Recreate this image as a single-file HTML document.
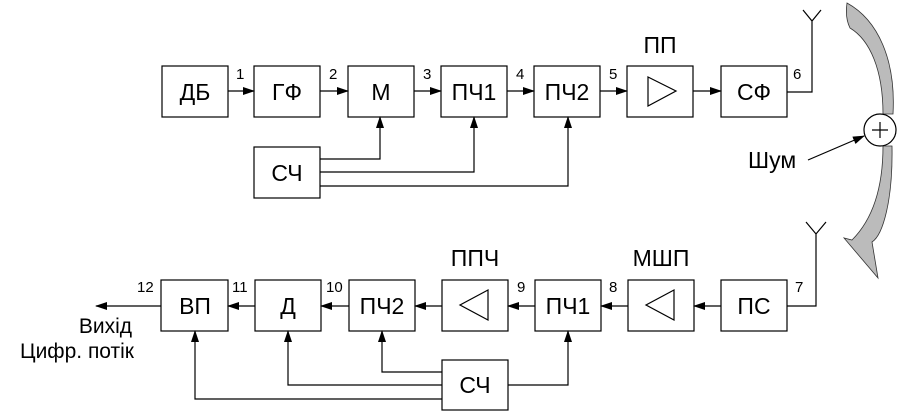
<!DOCTYPE html>
<html><head><meta charset="utf-8"><style>
html,body{margin:0;padding:0;background:#fff;}
svg{display:block;font-family:"Liberation Sans",sans-serif;}
.b{fill:#fff;stroke:#000;stroke-width:1.2;}
.l{fill:none;stroke:#000;stroke-width:1.2;}
.t{font-size:23px;text-anchor:middle;}
.n{font-size:15px;}
</style></head><body>
<svg width="900" height="412" viewBox="0 0 900 412">
<defs><marker id="a" markerWidth="12" markerHeight="8" refX="11" refY="4" orient="auto" markerUnits="userSpaceOnUse"><path d="M0,0L12,4L0,8z" fill="#000"/></marker></defs>
<g>
<rect class="b" x="162" y="66" width="66" height="51"/><text class="t" x="195" y="100">ДБ</text>
<rect class="b" x="254" y="66" width="66" height="51"/><text class="t" x="287" y="100">ГФ</text>
<rect class="b" x="348" y="66" width="66" height="51"/><text class="t" x="381" y="100">М</text>
<rect class="b" x="441" y="66" width="66" height="51"/><text class="t" x="474" y="100">ПЧ1</text>
<rect class="b" x="534" y="66" width="66" height="51"/><text class="t" x="567" y="100">ПЧ2</text>
<rect class="b" x="627" y="66" width="66" height="51"/><path class="l" d="M648,77L676,91L648,106Z"/>
<text class="t" x="660" y="53">ПП</text>
<rect class="b" x="721" y="66" width="66" height="51"/><text class="t" x="754" y="100">СФ</text>
<rect class="b" x="254" y="147" width="66" height="51"/><text class="t" x="287" y="181">СЧ</text>
<path class="l" d="M228,91H254" marker-end="url(#a)"/><text class="n" x="236" y="79">1</text>
<path class="l" d="M320,91H348" marker-end="url(#a)"/><text class="n" x="329" y="79">2</text>
<path class="l" d="M414,91H441" marker-end="url(#a)"/><text class="n" x="423" y="79">3</text>
<path class="l" d="M507,91H534" marker-end="url(#a)"/><text class="n" x="516" y="79">4</text>
<path class="l" d="M600,91H627" marker-end="url(#a)"/><text class="n" x="609" y="79">5</text>
<path class="l" d="M693,91H721" marker-end="url(#a)"/>
<path class="l" d="M787,92H812V21M803,10L812,21L821,10"/><text class="n" x="793" y="79">6</text>
<path class="l" d="M320,159H380V117" marker-end="url(#a)"/>
<path class="l" d="M320,172H474V117" marker-end="url(#a)"/>
<path class="l" d="M320,186H568V117" marker-end="url(#a)"/>
</g>
<g>
<path d="M847,3C878,20 896,60 893,114L883,114C883,70 870,40 850,28C846,20 846,10 847,3Z M883,146L892,146C893,200 883,235 872,242L878,278L844,238L852,240C872,220 883,190 883,146Z" fill="#bbb" stroke="#333" stroke-width="0.8"/>
<circle cx="880" cy="130" r="16" fill="#fff" stroke="#000" stroke-width="1.2"/>
<path class="l" d="M872,130H888M880,122V138"/>
<path class="l" d="M808,160L864,136" marker-end="url(#a)"/>
<text x="748" y="168" font-size="23">Шум</text>
</g>
<g>
<rect class="b" x="161" y="280" width="67" height="51"/><text class="t" x="195" y="314">ВП</text>
<rect class="b" x="255" y="280" width="66" height="51"/><text class="t" x="288" y="314">Д</text>
<rect class="b" x="349" y="280" width="66" height="51"/><text class="t" x="382" y="314">ПЧ2</text>
<rect class="b" x="442" y="280" width="66" height="51"/><path class="l" d="M488,290L460,305L488,320Z"/>
<text class="t" x="475" y="266">ППЧ</text>
<rect class="b" x="535" y="280" width="66" height="51"/><text class="t" x="568" y="314">ПЧ1</text>
<rect class="b" x="628" y="280" width="66" height="51"/><path class="l" d="M674,290L646,305L674,320Z"/>
<text class="t" x="661" y="266">МШП</text>
<rect class="b" x="721" y="280" width="66" height="51"/><text class="t" x="754" y="314">ПС</text>
<rect class="b" x="442" y="360" width="66" height="50"/><text class="t" x="475" y="393">СЧ</text>
<path class="l" d="M816,234V306H787M806,222L816,234L826,222"/><text class="n" x="795" y="292">7</text>
<path class="l" d="M721,306H694" marker-end="url(#a)"/>
<path class="l" d="M628,306H601" marker-end="url(#a)"/><text class="n" x="609" y="292">8</text>
<path class="l" d="M535,306H508" marker-end="url(#a)"/><text class="n" x="517" y="292">9</text>
<path class="l" d="M442,306H415" marker-end="url(#a)"/>
<path class="l" d="M349,306H321" marker-end="url(#a)"/><text class="n" x="326" y="292">10</text>
<path class="l" d="M255,306H228" marker-end="url(#a)"/><text class="n" x="232" y="292">11</text>
<path class="l" d="M161,306H96" marker-end="url(#a)"/><text class="n" x="137" y="292">12</text>
<path class="l" d="M442,372H382V331" marker-end="url(#a)"/>
<path class="l" d="M442,385H288V331" marker-end="url(#a)"/>
<path class="l" d="M442,399H195V331" marker-end="url(#a)"/>
<path class="l" d="M508,385H568V331" marker-end="url(#a)"/>
<text x="132" y="333" font-size="21" text-anchor="end">Вихід</text>
<text x="134" y="358" font-size="21" text-anchor="end">Цифр. потік</text>
</g>
</svg>
</body></html>
